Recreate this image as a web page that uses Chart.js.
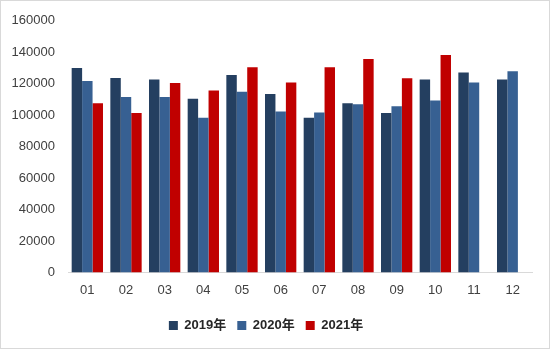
<!DOCTYPE html>
<html>
<head>
<meta charset="utf-8">
<script src="https://cdn.jsdelivr.net/npm/chart.js@4/dist/chart.umd.min.js"></script>
<style>
    html, body { margin: 0; padding: 0; background: #fff; }
    #wrap { width: 550px; height: 349px; position: relative; }
</style>
</head>
<body>
<div id="wrap"><canvas id="monthChart" width="550" height="349"></canvas></div>
<script>
const months = ['01', '02', '03', '04', '05', '06', '07', '08', '09', '10', '11', '12'];
const seriesNames = ['2019年', '2020年', '2021年'];
const values2019 = [130000, 123700, 122700, 110500, 125600, 113500, 98400, 107600, 101300, 122700, 127100, 122700];
const values2020 = [121700, 111600, 111600, 98400, 114900, 102400, 101700, 107000, 105700, 109300, 120800, 127900];
const values2021 = [107600, 101300, 120400, 115600, 130500, 120800, 130500, 135700, 123500, 138200, null, null];
const yTicks = [0, 20000, 40000, 60000, 80000, 100000, 120000, 140000, 160000];

const colors = ['#243F60', '#376092', '#C00000'];
const fontFamily = "'Liberation Sans', Arial, 'Noto Sans CJK SC', sans-serif";

// thin grey frame round the whole canvas
const framePlugin = {
    id: 'frame',
    beforeDraw(chart) {
        const ctx = chart.ctx;
        ctx.save();
        ctx.fillStyle = '#fff';
        ctx.fillRect(0, 0, chart.width, chart.height);
        ctx.strokeStyle = '#d9d9d9';
        ctx.lineWidth = 1;
        ctx.strokeRect(0.5, 0.5, chart.width - 1, chart.height - 1);
        ctx.restore();
    }
};

const ctx = document.getElementById('monthChart').getContext('2d');
new Chart(ctx, {
    type: 'bar',
    data: {
        labels: months,
        datasets: [values2019, values2020, values2021].map((vals, i) => ({
            label: seriesNames[i],
            data: vals,
            backgroundColor: colors[i],
            borderWidth: 0,
            barPercentage: 1.0,
            categoryPercentage: 0.81
        }))
    },
    options: {
        responsive: false,
        animation: false,
        layout: { padding: { top: 12, right: 18, left: 0, bottom: 7 } },
        plugins: {
            tooltip: { enabled: false },
            legend: {
                position: 'bottom',
                labels: {
                    boxWidth: 9, boxHeight: 9, padding: 11,
                    color: '#262626',
                    font: { family: fontFamily, size: 13, weight: 'bold' }
                }
            }
        },
        scales: {
            x: {
                grid: { display: false, drawTicks: false },
                border: { display: true, color: '#d9d9d9', width: 1 },
                ticks: { color: '#404040', padding: 10, font: { family: fontFamily, size: 13 } }
            },
            y: {
                min: 0, max: 160000,
                afterBuildTicks: scale => { scale.ticks = yTicks.map(v => ({ value: v })); },
                afterFit: scale => { scale.width = 68; },
                grid: { display: false, drawTicks: false },
                border: { display: false },
                ticks: {
                    color: '#404040', padding: 13,
                    font: { family: fontFamily, size: 13 },
                    callback: v => String(v)
                }
            }
        }
    },
    plugins: [framePlugin]
});
</script>
</body>
</html>
